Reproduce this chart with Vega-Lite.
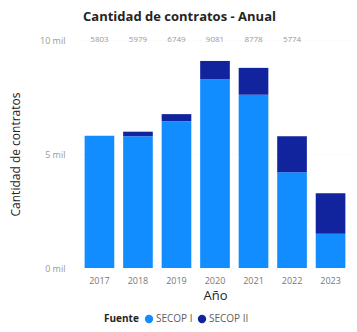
{
  "$schema": "https://vega.github.io/schema/vega-lite/v6.json",
  "width": 270,
  "height": 228,
  "autosize": "none",
  "padding": {"left": 80, "top": 40, "right": 7, "bottom": 64},
  "background": "white",
  "config": {"view": {"stroke": null}, "font": "Open Sans"},
  "title": {"text": "Cantidad de contratos - Anual", "fontSize": 13, "fontWeight": "bold", "font": "Open Sans", "color": "#252423", "anchor": "middle", "frame": "bounds", "offset": 12},
  "datasets": {
    "bars": [
      {"Año": "2017", "Fuente": "SECOP I", "Contratos": 5803},
      {"Año": "2017", "Fuente": "SECOP II", "Contratos": 0},
      {"Año": "2018", "Fuente": "SECOP I", "Contratos": 5780},
      {"Año": "2018", "Fuente": "SECOP II", "Contratos": 199},
      {"Año": "2019", "Fuente": "SECOP I", "Contratos": 6430},
      {"Año": "2019", "Fuente": "SECOP II", "Contratos": 319},
      {"Año": "2020", "Fuente": "SECOP I", "Contratos": 8270},
      {"Año": "2020", "Fuente": "SECOP II", "Contratos": 811},
      {"Año": "2021", "Fuente": "SECOP I", "Contratos": 7600},
      {"Año": "2021", "Fuente": "SECOP II", "Contratos": 1178},
      {"Año": "2022", "Fuente": "SECOP I", "Contratos": 4200},
      {"Año": "2022", "Fuente": "SECOP II", "Contratos": 1574},
      {"Año": "2023", "Fuente": "SECOP I", "Contratos": 1500},
      {"Año": "2023", "Fuente": "SECOP II", "Contratos": 1780}
    ],
    "totals": [
      {"Año": "2017", "Total": 5803},
      {"Año": "2018", "Total": 5979},
      {"Año": "2019", "Total": 6749},
      {"Año": "2020", "Total": 9081},
      {"Año": "2021", "Total": 8778},
      {"Año": "2022", "Total": 5774}
    ]
  },
  "layer": [
    {
      "data": {"name": "bars"},
      "mark": {"type": "bar"},
      "encoding": {
        "x": {
          "field": "Año", "type": "ordinal",
          "scale": {"paddingInner": 0.23, "paddingOuter": 0.12},
          "axis": {"title": "Año", "labelAngle": 0, "labelFontSize": 9, "labelColor": "#777777", "labelPadding": 8, "ticks": false, "domain": false, "titleFontSize": 13, "titleFontWeight": "normal", "titleColor": "#252423", "titlePadding": 4}
        },
        "y": {
          "field": "Contratos", "type": "quantitative", "stack": "zero",
          "scale": {"domain": [0, 10000], "nice": false},
          "axis": {"title": "Cantidad de contratos", "values": [0, 5000, 10000], "labelExpr": "datum.value/1000 + ' mil'", "labelFontSize": 9, "labelColor": "#999999", "labelPadding": 15, "ticks": false, "domain": false, "grid": true, "gridColor": "#eeeeee", "gridDash": [1, 3], "titleFontSize": 12, "titleFontWeight": "normal", "titleColor": "#252423", "titleX": -58}
        },
        "color": {
          "field": "Fuente", "type": "nominal",
          "scale": {"domain": ["SECOP I", "SECOP II"], "range": ["#118DFF", "#12239E"]},
          "legend": {"orient": "none", "direction": "horizontal", "legendX": 24, "legendY": 274, "title": "Fuente", "titleOrient": "left", "titleFontSize": 10, "titleFontWeight": "bold", "titleColor": "#252423", "labelFontSize": 10, "labelColor": "#605e5c", "symbolType": "circle", "symbolSize": 70, "symbolStrokeWidth": 0, "columnPadding": 4, "labelOffset": 2}
        },
        "order": {"field": "Fuente", "sort": "ascending"}
      }
    },
    {
      "data": {"name": "totals"},
      "mark": {"type": "text", "fontSize": 8, "color": "#999999", "baseline": "middle"},
      "encoding": {
        "x": {"field": "Año", "type": "ordinal"},
        "y": {"datum": 10000},
        "text": {"field": "Total", "type": "quantitative", "format": "d"}
      }
    }
  ]
}
